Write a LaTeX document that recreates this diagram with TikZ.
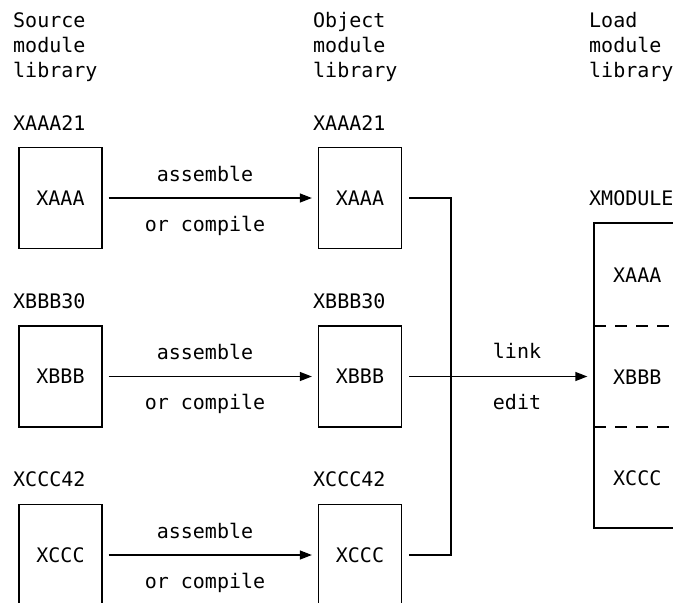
\documentclass[tikz,border=0pt]{standalone}
\usepackage{fontspec}
\setmainfont{DejaVu Sans Mono}
\usetikzlibrary{arrows.meta}
\begin{document}
\begin{tikzpicture}[x=1pt,y=-1pt,
  txt/.style={inner sep=0pt, anchor=base west, font=\fontsize{20}{25}\selectfont},
  ctxt/.style={inner sep=0pt, anchor=base, font=\fontsize{20}{25}\selectfont},
  modbox/.style={draw, line width=1.3pt, minimum width=83pt, minimum height=101pt, inner sep=0pt, font=\fontsize{20}{25}\selectfont},
  conn/.style={line width=1.3pt},
  arr/.style={line width=1.3pt, -{Triangle[length=12pt,width=9pt]}},
  sep/.style={line width=1.3pt, dash pattern=on 12pt off 9pt}
]
\useasboundingbox (0,0) rectangle (673,603);
% headers
\node[txt] (h1a) at (13,27) {Source};
\node[txt] (h1b) at (13,52) {module};
\node[txt] (h1c) at (13,77) {library};
\node[txt] (h2a) at (313,27) {Object};
\node[txt] (h2b) at (313,52) {module};
\node[txt] (h2c) at (313,77) {library};
\node[txt] (h3a) at (589,27) {Load};
\node[txt] (h3b) at (589,52) {module};
\node[txt] (h3c) at (589,77) {library};
% labels
\node[txt] (l1) at (13,130) {XAAA21};
\node[txt] (l2) at (13,308.5) {XBBB30};
\node[txt] (l3) at (13,486) {XCCC42};
\node[txt] (m1) at (313,130) {XAAA21};
\node[txt] (m2) at (313,308.5) {XBBB30};
\node[txt] (m3) at (313,486) {XCCC42};
\node[txt] (xm) at (589,205.5) {XMODULE};
% source boxes
\node[modbox] (s1) at (60.5,198) {XAAA};
\node[modbox] (s2) at (60.5,376.5) {XBBB};
\node[modbox] (s3) at (60.5,555) {XCCC};
% object boxes
\node[modbox] (o1) at (360,198) {XAAA};
\node[modbox] (o2) at (360,376.5) {XBBB};
\node[modbox] (o3) at (360,555) {XCCC};
% load module
\node[draw, line width=1.3pt, inner sep=0pt, minimum width=120pt, minimum height=305pt] (mod) at (654,375.5) {};
\node[txt] (ma) at (613,282.5) {XAAA};
\node[txt] (mb) at (613,384) {XBBB};
\node[txt] (mc) at (613,485.5) {XCCC};
\coordinate (d1) at (594,326);
\coordinate (d1e) at (680,326);
\coordinate (d2) at (594,427);
\coordinate (d2e) at (680,427);
\draw[sep] (d1) -- (d1e);
\draw[sep] (d2) -- (d2e);
% arrows
\foreach \i in {1,2,3} {
  \draw[arr, shorten <=6pt, shorten >=6pt] (s\i.east) -- (o\i.west);
}
\node[ctxt] (a1) at (205,181) {assemble};
\node[ctxt] (c1) at (205,231) {or compile};
\node[ctxt] (a2) at (205,359.5) {assemble};
\node[ctxt] (c2) at (205,409.5) {or compile};
\node[ctxt] (a3) at (205,538) {assemble};
\node[ctxt] (c3) at (205,588) {or compile};
% junction
\coordinate (jt) at (451,198);
\coordinate (jb) at (451,555);
\draw[conn, shorten <=7pt, shorten >=7pt] (o1.east) -- (jt) -- (jb) -- (o3.east);
\draw[arr, shorten <=7pt, shorten >=6pt] (o2.east) -- (mod.west |- o2.east);
\node[ctxt] (lk) at (517,358) {link};
\node[ctxt] (ed) at (517,409) {edit};
\end{tikzpicture}
\end{document}
